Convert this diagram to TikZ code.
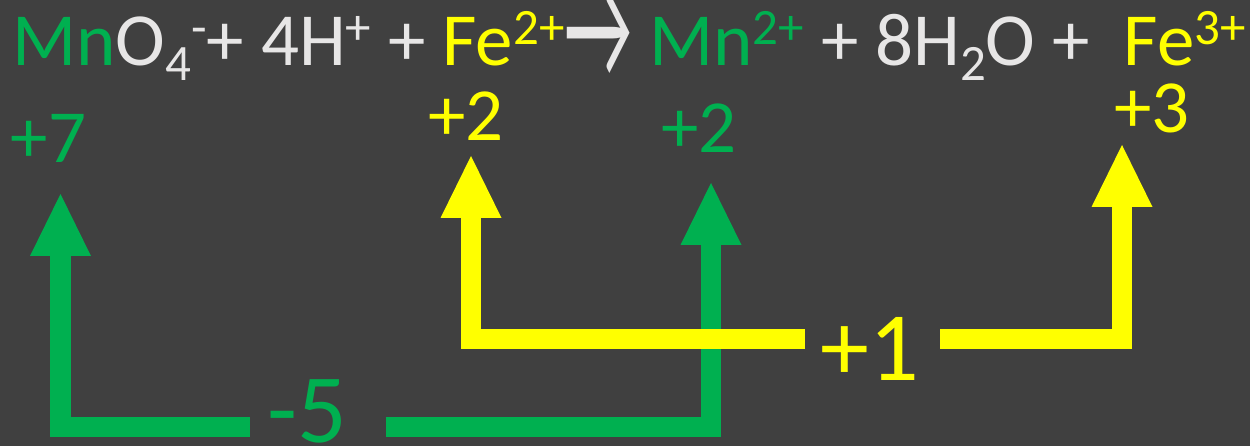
\documentclass[tikz,border=0pt]{standalone}
\usepackage{fontspec}
\setmainfont{Carlito}
\usepackage{xcolor}
\usepackage{tikz}
\usetikzlibrary{arrows.meta}
\definecolor{GrisFondo}{RGB}{64,64,64}
\definecolor{VerdeMn}{RGB}{0,176,80}
\definecolor{AmarilloFe}{RGB}{255,255,0}
\definecolor{BlancoTexto}{RGB}{231,230,230}
\newcommand{\arriba}[1]{\raisebox{0.29em}{\fontsize{51}{51}\selectfont #1}}
\newcommand{\abajo}[1]{\raisebox{-0.2em}{\fontsize{51}{51}\selectfont #1}}
\newcommand{\reacciona}{\raisebox{-13pt}{\scalebox{1}[2]{→}}}

\begin{document}
\begin{tikzpicture}[x=1pt,y=-1pt,
  flecha/.style={line width=20.5pt,-{Triangle[length=62pt,width=61pt,line width=0pt]}},
  num/.style={inner sep=0pt,anchor=base,font=\fontsize{75}{75}\selectfont},
  grande/.style={inner sep=0pt,anchor=base,font=\fontsize{98}{98}\selectfont}]
  \fill[GrisFondo] (0,0) rectangle (1250,446);
  \useasboundingbox (0,0) rectangle (1250,446);

  \node[inner sep=0pt,anchor=base west,text=BlancoTexto,font=\fontsize{75}{75}\selectfont] (ecuacion) at (12,66)
    {\textcolor{VerdeMn}{Mn}O\abajo{4}\arriba{-}+ 4H\arriba{+} + \textcolor{AmarilloFe}{Fe\arriba{2+}}\reacciona{} \textcolor{VerdeMn}{Mn\arriba{2+}} + 8H\abajo{2}O + \ \textcolor{AmarilloFe}{Fe\arriba{3+}}};

  % numeros de oxidacion
  \node[num,text=VerdeMn] (mas7) at (48.5,163) {+7};
  \node[num,text=AmarilloFe] (masFeA) at (466,141) {+2};
  \node[num,text=VerdeMn] (masMnB) at (699,153) {+2};
  \node[num,text=AmarilloFe] (masFeB) at (1152,133) {+3};
  \node[grande,text=VerdeMn] (menos5) at (307,442) {-5};
  \node[grande,text=AmarilloFe] (mas1) at (869.5,380) {+1};

  \coordinate (puntaMnA) at (60.5,194);
  \coordinate (puntaMnB) at (711,183);
  \coordinate (puntaFeA) at (471,156);
  \coordinate (puntaFeB) at (1122,145);
  \coordinate (cortaA) at (250,427);
  \coordinate (cortaB) at (386,427);
  \coordinate (cortaC) at (805,339);
  \coordinate (cortaD) at (940,339);

  \draw[flecha,VerdeMn] (cortaA) -| (puntaMnA);
  \draw[flecha,VerdeMn] (cortaB) -| (puntaMnB);
  \draw[flecha,AmarilloFe] (cortaC) -| (puntaFeA);
  \draw[flecha,AmarilloFe] (cortaD) -| (puntaFeB);
\end{tikzpicture}
\end{document}
